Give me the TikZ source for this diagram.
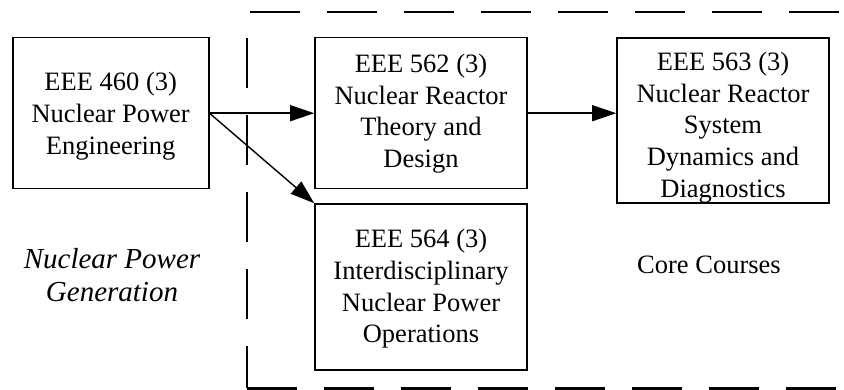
\documentclass[tikz,border=0pt]{standalone}
\usepackage{fontspec}
\setmainfont{Liberation Serif}
\usetikzlibrary{arrows.meta}

\begin{document}
\begin{tikzpicture}[x=1pt,y=-1pt,
  course/.style={draw, line width=1.6pt, inner sep=0pt},
  coursetext/.style={align=center, inner sep=0pt,
    font=\fontsize{26.5}{31.7}\selectfont},
  link/.style={line width=1.4pt, -{Triangle[length=24pt,width=16pt]}},
  region/.style={line width=2.8pt, dash pattern=on 50pt off 27pt},
  label/.style={align=center, font=\fontsize{26.5}{31.5}\selectfont}]
\useasboundingbox (0,0) rectangle (844,390);

% course boxes
\node[course, minimum width=196pt, minimum height=151pt] (e460) at (110.7,113.2) {};
\node[course, minimum width=212pt, minimum height=151pt] (e562) at (421,113.2) {};
\node[course, minimum width=212pt, minimum height=165pt] (e563) at (723,120.4) {};
\node[course, minimum width=212pt, minimum height=166pt] (e564) at (421,287) {};

% course titles (the y axis points down, so a downward shift is negative)
\node[coursetext] (t460) at ([yshift=-3pt]e460.center)
  {EEE 460 (3)\\Nuclear Power\\Engineering};
\node[coursetext] (t562) at ([yshift=-0.5pt]e562.center)
  {EEE 562 (3)\\Nuclear Reactor\\Theory and\\Design};
\node[coursetext] (t563) at ([yshift=-7pt]e563.center)
  {EEE 563 (3)\\Nuclear Reactor\\System\\Dynamics and\\Diagnostics};
\node[coursetext] (t564) at ([yshift=-2pt]e564.center)
  {EEE 564 (3)\\Interdisciplinary\\Nuclear Power\\Operations};

% region labels
\node[label] (core) at (709,265) {Core Courses};
\node[label, font=\fontsize{29}{33.5}\selectfont\itshape] (area) at (112,275)
  {Nuclear Power\\Generation};

% dashed boundary of the core region
\coordinate (tl) at (247,12);
\coordinate (bl) at (247,388.3);
\coordinate (tr) at (850,12);
\coordinate (br) at (850,388.3);
\draw[region] (250,12) -- (tr);
\draw[region, dash phase=51pt] (tl) -- (bl);
\draw[region] (bl) -- (br);

% prerequisite links
\draw[link] (e460.east) -- (e562.west);
\draw[link] (e460.east) -- (e564.north west);
\draw[link] (e562.east) -- (e562.east -| e563.west);
\end{tikzpicture}
\end{document}
